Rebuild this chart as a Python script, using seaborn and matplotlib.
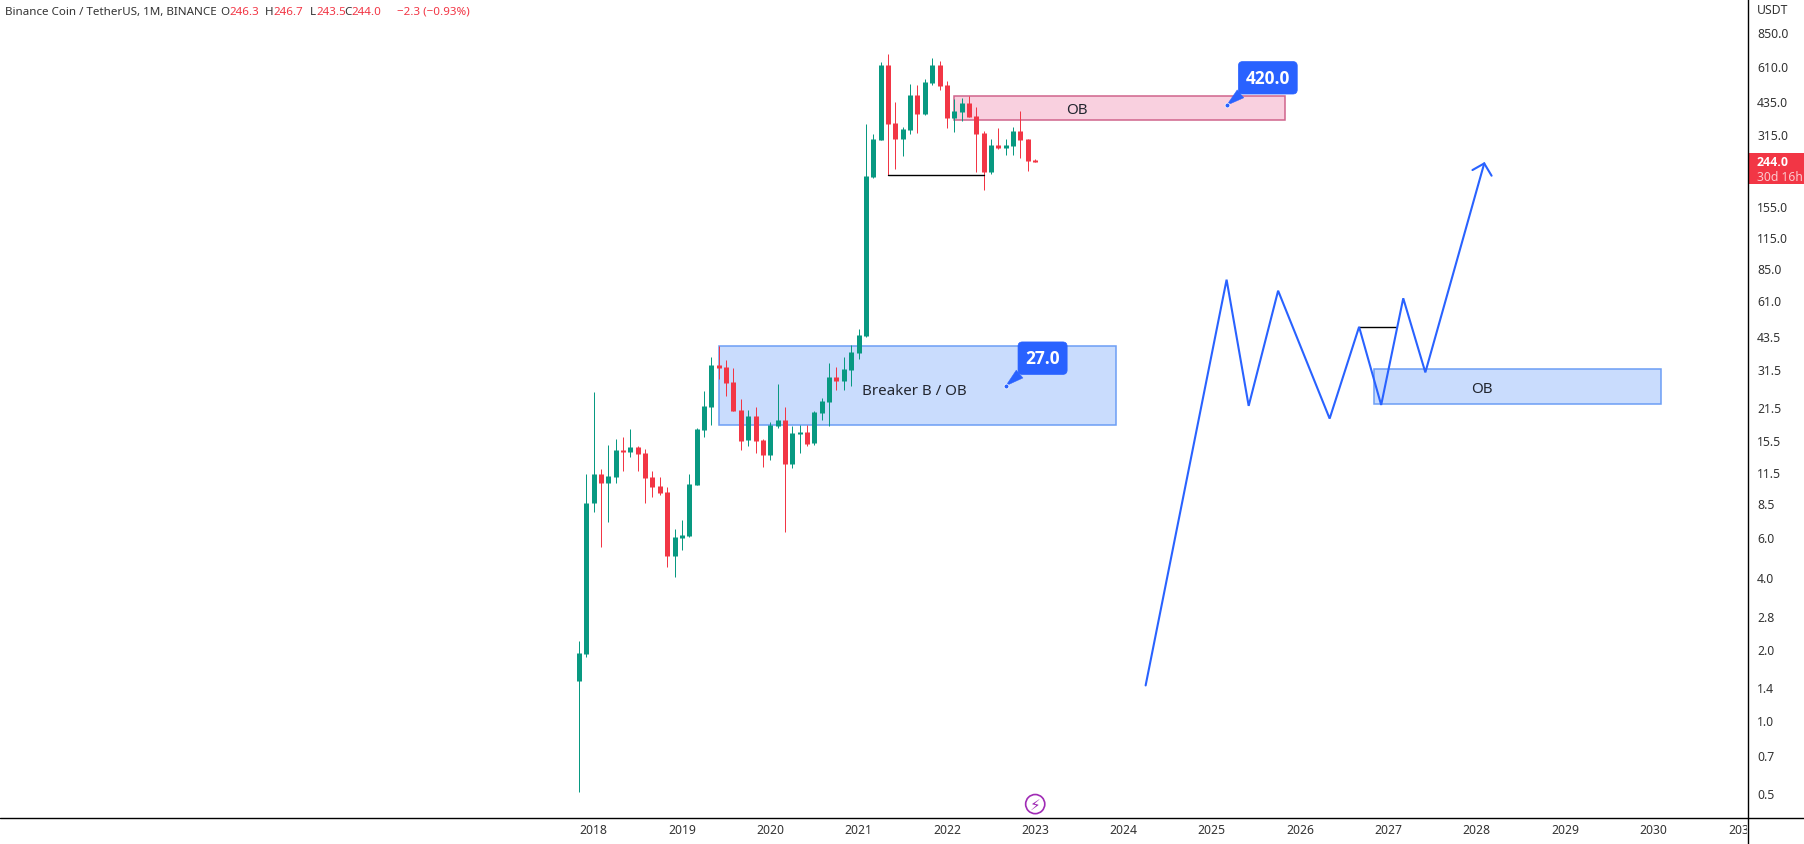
import matplotlib
matplotlib.use("Agg")
import matplotlib.pyplot as plt
import numpy as np
import pandas as pd
import seaborn as sns
from matplotlib.lines import Line2D
from matplotlib.patches import Rectangle
from matplotlib.ticker import NullLocator
from matplotlib.transforms import Bbox, ScaledTranslation, TransformedBbox

# monthly candles, Nov 2017 .. Jan 2023
open_ = [1.51, 1.96, 8.59, 11.37, 10.41, 11.04, 14.38, 14.1, 14.8, 13.96, 11.04, 10.1, 9.53,
         5.11, 6.1, 6.22, 10.21, 17.5, 21.9, 33.1, 32.5, 28.05, 21.3, 15.87, 20.07, 15.87, 13.68,
         18.2, 19.3, 12.54, 16.8, 17.16, 15.4, 20.7, 23.0, 29.45, 28.3, 31.5, 37.2, 44.0, 208.3,
         299.2, 623.0, 353.4, 302.2, 330.0, 464.5, 385.9, 522.4, 623.0, 512.2, 371.1, 393.6,
         429.8, 378.4, 320.4, 218.7, 285.0, 276.7, 282.2, 326.8, 302.2, 246.3]
high = [2.23, 11.37, 25.4, 11.94, 15.1, 16.0, 16.35, 17.67, 14.96, 14.5, 11.71, 11.04, 10.0,
        6.66, 7.27, 11.37, 17.85, 25.67, 35.8, 39.9, 34.8, 32.2, 23.7, 21.3, 21.9, 16.0, 18.9,
        27.5, 21.9, 18.2, 18.4, 18.4, 21.1, 24.0, 33.8, 32.5, 35.8, 40.3, 47.1, 350.0, 317.3,
        641.7, 693.9, 434.1, 339.8, 517.2, 512.2, 543.2, 667.0, 648.0, 532.7, 447.0, 451.0,
        460.0, 413.3, 326.8, 302.2, 336.5, 302.2, 339.8, 397.4, 302.2, 248.4]
low = [0.507, 1.91, 7.86, 5.58, 7.13, 10.41, 11.71, 13.4, 11.71, 8.59, 9.08, 9.26, 4.59,
       4.16, 5.42, 6.16, 10.21, 16.35, 18.4, 28.9, 24.45, 21.1, 14.38, 14.96, 13.96, 12.18, 13.04,
       17.85, 6.46, 12.06, 13.96, 14.96, 15.1, 19.3, 18.2, 25.9, 25.9, 27.0, 35.1, 43.6, 206.0,
       299.2, 212.4, 225.2, 255.9, 317.3, 320.4, 382.2, 512.2, 487.8, 336.5, 323.6, 360.4,
       374.8, 218.7, 183.4, 214.5, 274.0, 258.4, 258.4, 250.9, 220.9, 241.3]
close = [1.98, 8.59, 11.37, 10.41, 11.15, 14.38, 14.1, 14.8, 13.8, 10.93, 10.0, 9.44, 5.11,
         6.16, 6.28, 10.3, 17.67, 22.1, 33.1, 32.2, 27.8, 21.1, 15.7, 20.07, 15.7, 13.68, 18.4,
         19.3, 12.54, 17.0, 17.16, 15.25, 20.9, 23.25, 29.45, 28.3, 31.85, 37.6, 44.4, 210.3, 302.2,
         623.0, 350.0, 302.2, 333.2, 464.5, 385.9, 527.5, 623.0, 507.2, 371.1, 397.4, 429.8,
         374.8, 317.3, 218.7, 285.0, 276.7, 285.0, 326.8, 299.2, 243.6, 241.3]
first_month = -2  # months counted from Jan 2018

# projected path drawn on the chart
path_month = [75, 86, 89, 93, 100, 104, 107, 110, 113, 121]
path_price = [1.44, 76.3, 22.2, 68.5, 19.6, 48.1, 22.4, 63.6, 30.8, 238.0]
head_month = [119.4, 121, 122]
head_price = [223.0, 238.0, 211.0]

# zones: month from, month to, price low, price high
breaker_zone = [17, 71, 18.4, 39.9]
ob_top_zone = [49, 94, 364.0, 460.0]
ob_low_zone = [106, 145, 22.5, 31.7]
level_top = [40, 53, 212.4]
level_low = [104, 109, 48.0]

year_labels = ["2018", "2019", "2020", "2021", "2022", "2023", "2024", "2025", "2026", "2027",
               "2028", "2029", "2030", "2031"]
price_labels = ["850.0", "610.0", "435.0", "315.0", "155.0", "115.0", "85.0", "61.0", "43.5",
                "31.5", "21.5", "15.5", "11.5", "8.5", "6.0", "4.0", "2.8", "2.0", "1.4", "1.0",
                "0.7", "0.5"]
price_ticks = [850, 610, 435, 315, 155, 115, 85, 62, 43.5, 31.5, 21.7, 15.7, 11.5, 8.5, 6.1, 4.1,
               2.8, 2.03, 1.4, 1.02, 0.72, 0.5]

GREEN = "#089981"
RED = "#F23645"
BLUE = "#2962FF"
FONT = "Noto Sans"
BOLD = "Open Sans"
W, H = 1804, 845


def fx(px):
    return px / W


def fy(py):
    return 1 - py / H


def zona(ax, z, fc, ec):
    ax.add_patch(Rectangle((z[0], z[2]), z[1] - z[0], z[3] - z[2], fc=fc, ec=ec, lw=1.1, zorder=1))


def callout(ax, text, xy, xytext):
    ax.annotate(text, xy=xy, xytext=xytext, color="white", fontsize=12.4, fontweight="bold",
                family=BOLD, ha="center", va="center", zorder=6,
                bbox=dict(boxstyle="round,pad=0.42,rounding_size=0.25", fc=BLUE, ec=BLUE, lw=0.5),
                arrowprops=dict(arrowstyle="wedge,tail_width=0.6,shrink_factor=0.5", fc=BLUE,
                                ec=BLUE, lw=0.3, shrinkA=0, shrinkB=0, relpos=(0.1, 0.05)))
    ax.scatter([xy[0]], [xy[1]], s=12, color=BLUE, edgecolor="white", linewidth=0.5, zorder=7)


sns.set_theme(style="white")
plt.rcParams["font.family"] = [FONT, "DejaVu Sans"]

months = np.arange(len(open_)) + first_month
candles = pd.DataFrame({"mes": months, "o": open_, "h": high, "l": low, "c": close})
candles["dir"] = np.where(candles["c"] >= candles["o"], "up", "down")

wicks = pd.concat([candles.assign(pret=candles["h"]), candles.assign(pret=candles["l"])])
bodies = pd.concat([candles.assign(pret=candles["o"]), candles.assign(pret=candles["c"])])
colors = {"up": GREEN, "down": RED}

fig = plt.figure(figsize=(W / 100, H / 100), dpi=100, facecolor="white")
ax = fig.add_axes([0, fy(818), fx(1747), 818 / H])
ax.set_yscale("log")

zona(ax, breaker_zone, "#C9DCFD", "#6C9EF5")
zona(ax, ob_low_zone, "#C9DCFD", "#6C9EF5")
zona(ax, ob_top_zone, "#F9D0DF", "#D0648C")

sns.lineplot(data=wicks, x="mes", y="pret", hue="dir", units="mes", estimator=None, palette=colors,
             legend=False, linewidth=0.72, solid_capstyle="butt", ax=ax)
sns.lineplot(data=bodies, x="mes", y="pret", hue="dir", units="mes", estimator=None, palette=colors,
             legend=False, linewidth=3.6, solid_capstyle="butt", ax=ax)

sns.lineplot(x=level_top[:2], y=[level_top[2]] * 2, color="black", linewidth=1, ax=ax, zorder=3)
sns.lineplot(x=level_low[:2], y=[level_low[2]] * 2, color="black", linewidth=1, ax=ax, zorder=3)
ax.plot(path_month, path_price, color=BLUE, linewidth=1.5, solid_joinstyle="miter", zorder=4)
ax.plot(head_month, head_price, color=BLUE, linewidth=1.5, solid_joinstyle="miter", zorder=4)

ax.text(43.6, 25.7, "Breaker B / OB", color="#22262F", fontsize=10.9, ha="center", va="center", zorder=5)
ax.text(65.7, 405, "OB", color="#22262F", fontsize=10.9, ha="center", va="center", zorder=5)
ax.text(120.7, 26.4, "OB", color="#22262F", fontsize=10.9, ha="center", va="center", zorder=5)

callout(ax, "420.0", (86, 420.0), (91.6, 550.0))
callout(ax, "27.0", (56, 27.0), (61, 35.4))

# purple flash icon under the last candle
ax.scatter([60], [0.451], s=190, facecolor="none", edgecolor="#A02BB5", linewidth=1.2, zorder=5)
ax.text(60, 0.451, "\u26a1", family="DejaVu Sans", color="#A02BB5", fontsize=11, ha="center", va="center", zorder=5)

ax.set_xlim(-80.64, 156.7)
ax.set_ylim(0.3975, 1189)
ax.set_xlabel("")
ax.set_ylabel("")
ax.set_xticks(np.arange(len(year_labels)) * 12)
ax.set_xticklabels(year_labels, fontsize=8.8, color="#333333")
ax.yaxis.tick_right()
ax.set_yticks(price_ticks)
ax.set_yticklabels(price_labels, fontsize=8.8, color="#333333")
ax.yaxis.set_minor_locator(NullLocator())
ax.tick_params(axis="x", length=0, pad=4.5)
ax.tick_params(axis="y", length=0, pad=7.2)
for s in ["left", "top", "bottom", "right"]:
    ax.spines[s].set_visible(False)

# the last year label is cut by the price scale
clip = TransformedBbox(Bbox([[0, 0], [fx(1747), 1]]), fig.transFigure)
for lab in ax.get_xticklabels():
    lab.set_clip_box(clip)
    lab.set_clip_on(True)

# price labels sit a little higher than matplotlib centres them
up = ScaledTranslation(0, 1 / 100, fig.dpi_scale_trans)
for lab in ax.get_yticklabels():
    lab.set_transform(lab.get_transform() + up)

fig.add_artist(Line2D([0, 1], [fy(818.5)] * 2, transform=fig.transFigure, color="black", lw=1))
fig.add_artist(Line2D([fx(1747.5)] * 2, [0, 1], transform=fig.transFigure, color="black", lw=1))

# last price tag
fig.add_artist(Rectangle((fx(1748), fy(185)), fx(56), 31 / H, transform=fig.transFigure, fc=RED, ec="none"))
fig.text(fx(1757), fy(163), "244.0", color="white", fontsize=8.8, fontweight="bold", family=BOLD, va="center")
fig.text(fx(1757), fy(177.5), "30d 16h", color="#FBC9CE", fontsize=8.8, va="center")
fig.text(fx(1757), fy(11), "USDT", color="#333333", fontsize=8.8, va="center")

# header line
header = [(5, "Binance Coin / TetherUS, 1M, BINANCE", "#333333"), (220.7, "O", "#333333"),
          (229, "246.3", RED), (265, "H", "#333333"), (273, "246.7", RED), (310, "L", "#333333"),
          (316.7, "243.5", RED), (344, "C", "#333333"), (351.7, "244.0", RED),
          (396.7, "\u22122.3 (\u22120.93%)", RED)]
for px, txt, col in header:
    fig.text(fx(px), fy(12.3), txt, color=col, fontsize=8.35, va="center")

fig.savefig("out.png", dpi=100, facecolor="white")
